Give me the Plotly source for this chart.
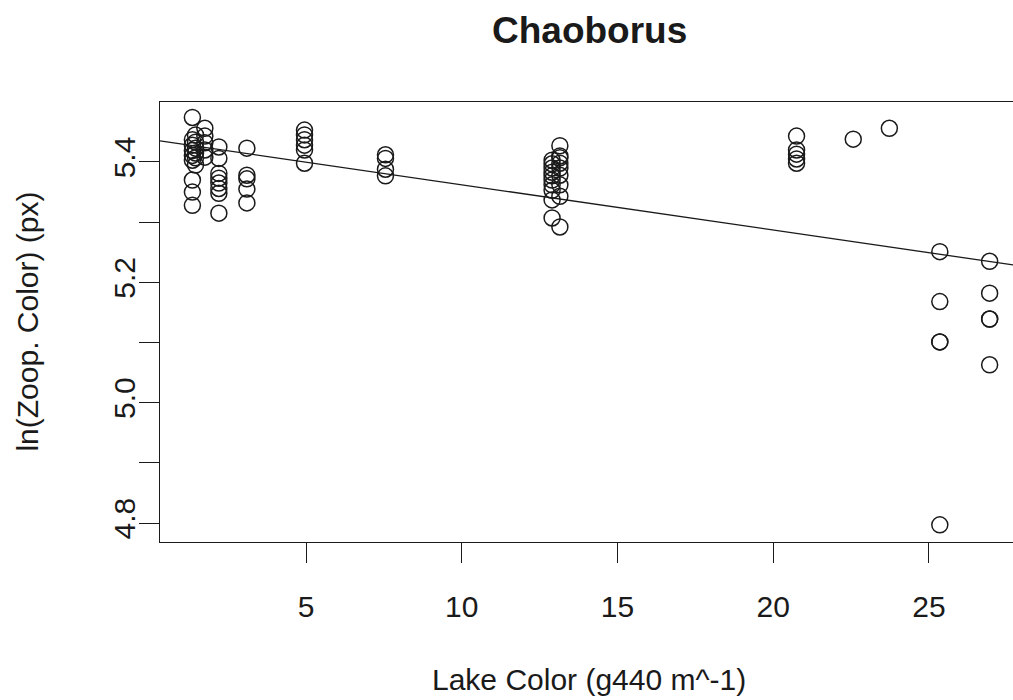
import plotly.graph_objects as go

# Data
lake_color = (
    [1.35] * 9 + [1.45] * 6 + [1.75] * 5 +
    [2.2] * 8 + [3.1] * 5 +
    [4.95] * 6 + [7.55] * 4 +
    [12.9] * 10 + [13.15] * 9 +
    [20.75] * 5 + [22.57, 23.73] +
    [25.35] * 5 + [26.95] * 5
)
zoop_color = (
    [5.474, 5.437, 5.428, 5.419, 5.411, 5.403, 5.370, 5.350, 5.328] +
    [5.445, 5.433, 5.423, 5.415, 5.407, 5.395] +
    [5.456, 5.443, 5.432, 5.420, 5.408] +
    [5.425, 5.406, 5.381, 5.373, 5.365, 5.356, 5.348, 5.315] +
    [5.423, 5.378, 5.372, 5.355, 5.332] +
    [5.453, 5.445, 5.437, 5.428, 5.420, 5.398] +
    [5.412, 5.406, 5.388, 5.377] +
    [5.403, 5.397, 5.390, 5.383, 5.377, 5.370, 5.362, 5.353, 5.337, 5.307] +
    [5.427, 5.410, 5.407, 5.398, 5.390, 5.378, 5.362, 5.343, 5.292] +
    [5.443, 5.420, 5.413, 5.405, 5.398] +
    [5.438, 5.456] +
    [5.251, 5.168, 5.101, 5.101, 4.797] +
    [5.235, 5.182, 5.139, 5.139, 5.063]
)

fit_intercept = 5.4373
fit_slope = -0.00752

x_range = [0.31, 27.70]
y_range = [4.7685, 5.4997]

x_ticks = [5, 10, 15, 20, 25]
y_ticks = [4.8, 4.9, 5.0, 5.1, 5.2, 5.3, 5.4, 5.5]
y_ticktext = ["4.8", "", "5.0", "", "5.2", "", "5.4", ""]

FONT = "Liberation Sans, Arial, Helvetica, sans-serif"
INK = "#1a1a1a"

fig = go.Figure()
fig.add_trace(go.Scatter(
    x=lake_color, y=zoop_color, mode="markers",
    marker=dict(symbol="circle-open", size=16, color=INK,
                line=dict(width=1.5, color=INK)),
    showlegend=False, hoverinfo="x+y"))

line_x = list(x_range)
line_y = [fit_intercept + fit_slope * v for v in line_x]
fig.add_trace(go.Scatter(
    x=line_x, y=line_y, mode="lines",
    line=dict(color=INK, width=1.3),
    showlegend=False, hoverinfo="skip"))

fig.update_layout(
    width=1013, height=700,
    margin=dict(l=160, r=0, t=102, b=158),
    plot_bgcolor="white", paper_bgcolor="white",
    font=dict(family=FONT, size=30, color=INK),
    xaxis=dict(range=x_range, tickvals=x_ticks, ticks="outside", ticklen=20,
               tickwidth=1.2, tickcolor=INK, showline=True, linecolor=INK,
               linewidth=1.3, mirror=True, showgrid=False, zeroline=False,
               ticklabelstandoff=18, tickfont=dict(size=30, family=FONT, color=INK)),
    yaxis=dict(range=y_range, tickvals=y_ticks, ticktext=y_ticktext,
               ticks="outside", ticklen=20, tickwidth=1.2, tickcolor=INK,
               showline=True, linecolor=INK, linewidth=1.3, mirror=False,
               showgrid=False, zeroline=False, tickangle=-90,
               ticklabelstandoff=-8, tickfont=dict(size=30, family=FONT, color=INK)),
    annotations=[
        dict(text="<b>Chaoborus</b>", xref="paper", yref="paper",
             x=0.5035, y=1.1636, xanchor="center", yanchor="middle",
             showarrow=False, font=dict(size=37, family=FONT, color=INK)),
        dict(text="Lake Color (g440 m^-1)", xref="paper", yref="paper",
             x=0.5035, y=-0.3136, xanchor="center", yanchor="middle",
             showarrow=False, font=dict(size=30, family=FONT, color=INK)),
        dict(text="ln(Zoop. Color) (px)", xref="paper", yref="paper",
             x=-0.1564, y=0.5, xanchor="center", yanchor="middle", textangle=-90,
             showarrow=False, font=dict(size=30, family=FONT, color=INK)),
    ],
)

fig.write_html("out.html")
